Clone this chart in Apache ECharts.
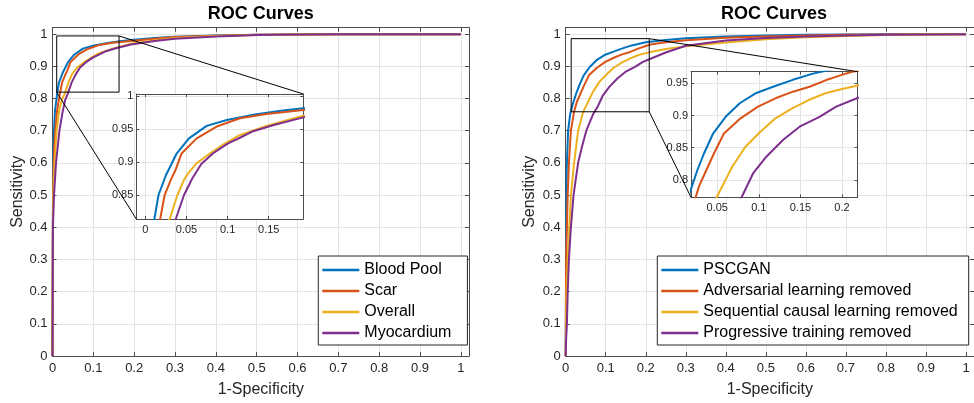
<!DOCTYPE html>
<html><head><meta charset="utf-8">
<script src="https://cdn.jsdelivr.net/npm/echarts@6/dist/echarts.min.js"></script>
<style>html,body{margin:0;padding:0;background:#fff}#c{width:974px;height:403px}</style>
</head><body><div id="c"></div>
<script>
// ---------------- data ----------------
const leftNames = ['Blood Pool', 'Scar', 'Overall', 'Myocardium'];
const rightNames = ['PSCGAN', 'Adversarial learning removed', 'Sequential causal learning removed', 'Progressive training removed'];

const bloodPool = [[0,0],[0.001,0.45],[0.002,0.62],[0.0037,0.7],[0.006,0.76],[0.01,0.8],[0.011,0.8135],[0.016,0.85],[0.025,0.88],[0.038,0.913],[0.053,0.936],[0.0745,0.955],[0.099,0.964],[0.135,0.9726],[0.165,0.978],[0.192,0.982],[0.25,0.988],[0.3,0.992],[0.4,0.996],[0.5,0.998],[0.6,0.999],[0.7,1],[1,1]];
const scar = [[0,0],[0.001,0.42],[0.002,0.55],[0.004,0.64],[0.007,0.7],[0.011,0.76],[0.016,0.8],[0.0235,0.85],[0.031,0.873],[0.036,0.886],[0.044,0.913],[0.0624,0.936],[0.0867,0.954],[0.115,0.9666],[0.147,0.973],[0.192,0.979],[0.25,0.986],[0.3,0.991],[0.4,0.995],[0.5,0.998],[0.6,0.999],[0.7,1],[1,1]];
const overall = [[0,0],[0.001,0.4],[0.002,0.5],[0.005,0.6],[0.01,0.7],[0.016,0.76],[0.0225,0.795],[0.03,0.815],[0.039,0.85],[0.047,0.873],[0.052,0.883],[0.062,0.898],[0.0785,0.913],[0.095,0.927],[0.113,0.94],[0.147,0.955],[0.192,0.9705],[0.25,0.981],[0.3,0.988],[0.4,0.994],[0.5,0.997],[0.6,0.999],[0.7,1],[1,1]];
const myocardium = [[0,0],[0.001,0.4],[0.0037,0.5],[0.0086,0.6],[0.017,0.7],[0.025,0.76],[0.031,0.795],[0.037,0.8135],[0.047,0.85],[0.057,0.875],[0.068,0.897],[0.082,0.913],[0.1,0.928],[0.115,0.937],[0.131,0.947],[0.155,0.956],[0.192,0.968],[0.25,0.979],[0.3,0.986],[0.4,0.993],[0.5,0.997],[0.6,0.999],[0.7,1],[1,1]];

const pscgan = [[0,0],[0.001,0.3],[0.002,0.55],[0.003,0.6],[0.006,0.7],[0.011,0.75],[0.017,0.78],[0.026,0.815],[0.034,0.841],[0.045,0.872],[0.06,0.898],[0.077,0.919],[0.097,0.935],[0.118,0.945],[0.14,0.955],[0.165,0.965],[0.2,0.975],[0.25,0.982],[0.3,0.987],[0.4,0.993],[0.5,0.996],[0.6,0.998],[0.7,0.999],[0.8,1],[1,1]];
const advRemoved = [[0,0],[0.001,0.3],[0.003,0.4],[0.005,0.5],[0.008,0.6],[0.013,0.7],[0.021,0.76],[0.028,0.79],[0.035,0.81],[0.046,0.841],[0.058,0.872],[0.078,0.8956],[0.099,0.9137],[0.12,0.9267],[0.141,0.937],[0.161,0.9447],[0.181,0.955],[0.2,0.963],[0.212,0.968],[0.25,0.975],[0.3,0.981],[0.4,0.989],[0.5,0.993],[0.6,0.996],[0.7,0.998],[0.8,0.999],[0.9,1],[1,1]];
const seqRemoved = [[0,0],[0.002,0.2],[0.005,0.3],[0.009,0.4],[0.013,0.5],[0.021,0.6],[0.031,0.7],[0.043,0.756],[0.052,0.78],[0.06,0.8],[0.068,0.8205],[0.084,0.8516],[0.1,0.8724],[0.12,0.8956],[0.14,0.9112],[0.16,0.924],[0.18,0.9345],[0.2,0.941],[0.218,0.9463],[0.25,0.954],[0.3,0.962],[0.4,0.974],[0.5,0.984],[0.6,0.99],[0.7,0.994],[0.8,0.997],[0.9,0.999],[1,1]];
const progRemoved = [[0,0],[0.001,0.05],[0.003,0.1],[0.005,0.2],[0.008,0.3],[0.013,0.4],[0.0196,0.5],[0.031,0.6],[0.041,0.652],[0.0515,0.7],[0.068,0.75],[0.08,0.775],[0.093,0.81],[0.109,0.836],[0.129,0.862],[0.149,0.8826],[0.173,0.898],[0.193,0.9137],[0.218,0.9267],[0.25,0.943],[0.3,0.964],[0.4,0.98],[0.5,0.988],[0.6,0.993],[0.7,0.996],[0.8,0.998],[0.9,0.999],[1,1]];

const leftSeries = [bloodPool, scar, overall, myocardium];
const rightSeries = [pscgan, advRemoved, seqRemoved, progRemoved];

const mainTicks = [0,0.1,0.2,0.3,0.4,0.5,0.6,0.7,0.8,0.9,1];
const insetLTicksX = [0,0.05,0.1,0.15];
const insetLTicksY = [0.85,0.9,0.95,1];
const insetRTicksX = [0.05,0.1,0.15,0.2];
const insetRTicksY = [0.8,0.85,0.9,0.95];

const mainRange = [0,1.02];
const insetLRangeX = [-0.011,0.192];
const insetLRangeY = [0.8135,1.0035];
const insetRRangeX = [0.0184,0.2189];
const insetRRangeY = [0.773,0.968];

// zoom rectangles on main plots: [xmin, xmax, ymin, ymax]
const zoomBoxL = [0.0103,0.163,0.8198,0.9944];
const zoomBoxR = [0.0137,0.2087,0.7588,0.986];

// ---------------- style ----------------
const FONT = "'Liberation Sans', Arial, Helvetica, sans-serif";
const colors = ['#0072BD','#D95319','#EDB120','#7E2F8E'];
const AXIS_COLOR = '#4d4d4d';
const LABEL_COLOR = '#262626';
const GRID_COLOR = '#e3e3e3';
const fmt = v => String(Math.round(v*1000)/1000);

function axes(kind, gridIndex, range, ticks, cfg) {
  const mk = (labeled) => {
    const a = {
      type:'value', gridIndex, min:range[0], max:range[1], z:cfg.z,
      position: kind==='x' ? (labeled?'bottom':'top') : (labeled?'left':'right'),
      axisLine:{show:true, onZero:false, lineStyle:{color:AXIS_COLOR, width:1}},
      axisTick:{show:true, inside:true, length:cfg.tick, customValues:ticks.slice(), lineStyle:{color:AXIS_COLOR, width:1}},
      axisLabel: labeled ? {show:true, customValues:ticks.slice(), formatter:fmt, fontSize:cfg.font, color:LABEL_COLOR, fontFamily:FONT, margin:cfg.margin, hideOverlap:false} : {show:false},
      splitLine: labeled ? {show:true, lineStyle:{color:GRID_COLOR, width:1}} : {show:false},
    };
    if (labeled && cfg.name) {
      a.name = cfg.name; a.nameLocation = 'middle'; a.nameGap = cfg.nameGap;
      a.nameTextStyle = {fontSize:16, color:LABEL_COLOR, fontFamily:FONT};
      if (kind==='y') a.nameRotate = 90;
    }
    return a;
  };
  return [mk(true), mk(false)];
}

const grids = [
  {left:52.5, top:27.7, width:416.5, height:329},
  {left:136.3, top:94, width:167, height:125, show:true, backgroundColor:'#fff', borderWidth:0, z:3},
  {left:565.7, top:27.7, width:416.5, height:329},
  {left:691, top:71.7, width:166.7, height:125.6, show:true, backgroundColor:'#fff', borderWidth:0, z:3},
];

const xAxes = [].concat(
  axes('x',0,mainRange,mainTicks,{z:0,tick:4,font:13,margin:6,name:'1-Specificity',nameGap:26}),
  axes('x',1,insetLRangeX,insetLTicksX,{z:4,tick:3,font:11,margin:5}),
  axes('x',2,mainRange,mainTicks,{z:0,tick:4,font:13,margin:6,name:'1-Specificity',nameGap:26}),
  axes('x',3,insetRRangeX,insetRTicksX,{z:4,tick:3,font:11,margin:5})
);
const yAxes = [].concat(
  axes('y',0,mainRange,mainTicks,{z:0,tick:4,font:13,margin:5,name:'Sensitivity',nameGap:27}),
  axes('y',1,insetLRangeY,insetLTicksY,{z:4,tick:3,font:11,margin:3}),
  axes('y',2,mainRange,mainTicks,{z:0,tick:4,font:13,margin:5,name:'Sensitivity',nameGap:28}),
  axes('y',3,insetRRangeY,insetRTicksY,{z:4,tick:3,font:11,margin:3})
);

function line(name, data, color, ai, z) {
  return {type:'line', name, data, xAxisIndex:ai, yAxisIndex:ai, symbol:'none', showSymbol:false,
    lineStyle:{color, width:2}, itemStyle:{color}, z, silent:true, animation:false, clip:true};
}
const series = [];
leftNames.forEach((n,i)=>series.push(line(n, leftSeries[i], colors[i], 0, 2)));
leftNames.forEach((n,i)=>series.push(line(n, leftSeries[i], colors[i], 2, 5)));
rightNames.forEach((n,i)=>series.push(line(n, rightSeries[i], colors[i], 4, 2)));
rightNames.forEach((n,i)=>series.push(line(n, rightSeries[i], colors[i], 6, 5)));

const legendBase = {
  orient:'vertical', icon:'rect', itemWidth:37, itemHeight:2.5, itemGap:5,
  selectedMode:false, backgroundColor:'#fff', borderColor:'#262626', borderWidth:1, borderRadius:0, z:10,
  textStyle:{fontSize:16, color:'#000', fontFamily:FONT, lineHeight:16}
};

const option = {
  animation:false,
  backgroundColor:'#fff',
  color: colors,
  title:[
    {text:'ROC Curves', left:260.75, top:5, textAlign:'center', padding:0, textStyle:{fontSize:18, fontWeight:'bold', color:'#000', fontFamily:FONT}},
    {text:'ROC Curves', left:773.9, top:5, textAlign:'center', padding:0, textStyle:{fontSize:18, fontWeight:'bold', color:'#000', fontFamily:FONT}},
  ],
  legend:[
    Object.assign({}, legendBase, {left:318.3, top:256, padding:[6,16,4,4], data:leftNames.slice()}),
    Object.assign({}, legendBase, {left:657.3, top:256, padding:[6,11,4,4], data:rightNames.slice()}),
  ],
  grid: grids,
  xAxis: xAxes,
  yAxis: yAxes,
  series
};

const chart = echarts.init(document.getElementById('c'), null, {renderer:'canvas', width:974, height:403});
chart.setOption(option);

function px(ai, pt){ return chart.convertToPixel({xAxisIndex:ai, yAxisIndex:ai}, pt); }
function rectG(ai, b){
  const p0 = px(ai,[b[0],b[3]]), p1 = px(ai,[b[1],b[2]]);
  return {type:'rect', silent:true, z:6, shape:{x:p0[0], y:p0[1], width:p1[0]-p0[0], height:p1[1]-p0[1]}, style:{fill:'none', stroke:'#000', lineWidth:1}};
}
function lineG(a, b){
  return {type:'line', silent:true, z:6, shape:{x1:a[0],y1:a[1],x2:b[0],y2:b[1]}, style:{stroke:'#000', lineWidth:1}};
}
const graphics = [
  rectG(0, zoomBoxL),
  lineG(px(0,[zoomBoxL[1],zoomBoxL[3]]), px(2,[insetLRangeX[1],insetLRangeY[1]])),
  lineG(px(0,[zoomBoxL[0],zoomBoxL[2]]), px(2,[insetLRangeX[0],insetLRangeY[0]])),
  rectG(4, zoomBoxR),
  lineG(px(4,[zoomBoxR[1],zoomBoxR[3]]), px(6,[insetRRangeX[1],insetRRangeY[1]])),
  lineG(px(4,[zoomBoxR[1],zoomBoxR[2]]), px(6,[insetRRangeX[0],insetRRangeY[0]])),
];
chart.setOption({graphic: graphics});
</script></body></html>
